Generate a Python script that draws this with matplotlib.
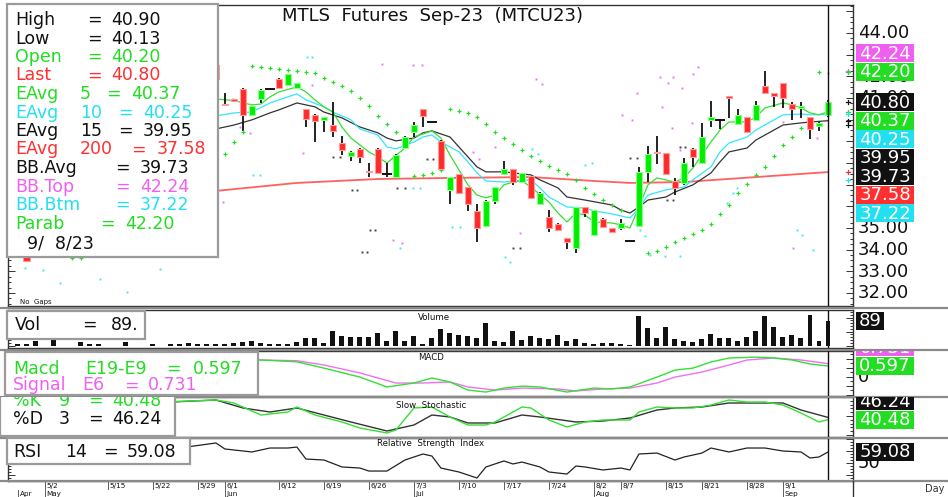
import numpy as np
import matplotlib.pyplot as plt
from matplotlib.patches import Rectangle
from matplotlib.lines import Line2D
from matplotlib.transforms import Affine2D, Bbox
from matplotlib.ticker import MultipleLocator

plt.rcParams['font.family'] = ['DejaVu Sans']

W, H = 948, 497

# ---------------- data ----------------
# every series is keyed by "bars back" from the last session (0 = 9/8/23)
candle_back = [89] + list(range(68, -1, -1))
cdl_open = [34.60,
            42.52, 40.70, 40.95, 41.42, 40.22, 40.95, 41.40, 41.88, 41.60, 41.46,
            40.49, 40.22, 39.98, 39.75, 38.92, 38.32, 38.65, 37.62, 38.65, 37.49,
            37.35, 38.69, 39.43, 40.49, 39.89, 39.02, 36.76, 37.49, 36.89, 35.79,
            35.09, 36.25, 37.49, 37.72, 37.12, 37.40, 36.11, 35.51, 35.19, 34.54,
            34.08, 35.97, 34.68, 35.42, 35.00, 35.00, 34.40, 35.09, 37.59, 38.51,
            38.46, 37.17, 37.08, 38.65, 38.00, 39.98, 39.99, 41.09, 39.80, 40.12,
            39.98, 41.55, 41.23, 41.69, 40.72, 40.55, 40.12, 39.71, 40.20]
cdl_high = [34.70,
            42.60, 41.23, 40.97, 41.45, 40.65, 41.40, 41.42, 41.90, 42.12, 41.71,
            40.50, 40.24, 40.14, 40.80, 39.25, 38.53, 38.69, 38.00, 38.67, 38.00,
            38.40, 39.25, 39.89, 40.51, 39.91, 39.04, 37.37, 37.51, 36.91, 36.11,
            36.27, 36.91, 38.09, 37.74, 37.56, 37.42, 36.64, 35.83, 35.21, 34.56,
            35.99, 35.99, 35.85, 35.44, 35.02, 35.42, 34.42, 37.82, 38.79, 39.25,
            38.48, 37.31, 38.23, 38.67, 39.85, 40.86, 40.01, 41.11, 40.49, 40.14,
            40.86, 42.25, 41.25, 41.71, 40.82, 40.82, 40.14, 39.87, 40.90]
cdl_low = [33.45,
           41.80, 40.63, 40.86, 39.48, 40.15, 40.77, 41.36, 41.44, 41.58, 41.44,
           39.66, 38.97, 39.43, 39.20, 38.37, 38.09, 38.00, 37.35, 37.52, 37.35,
           37.33, 38.65, 39.20, 39.66, 39.87, 37.70, 36.11, 36.60, 35.79, 34.36,
           35.07, 36.11, 37.47, 37.00, 37.10, 36.37, 36.09, 34.82, 34.85, 34.03,
           33.85, 35.51, 34.66, 35.00, 34.80, 34.91, 34.38, 35.07, 37.12, 37.95,
           37.47, 36.52, 36.99, 37.82, 37.98, 39.66, 39.57, 40.08, 39.78, 39.43,
           39.96, 41.21, 40.59, 40.54, 39.98, 40.08, 39.11, 39.48, 40.13]
cdl_close = [33.47,
             41.88, 40.66, 40.88, 40.22, 40.63, 41.37, 41.40, 41.46, 42.10, 41.69,
             40.03, 39.94, 40.12, 39.48, 38.60, 38.51, 38.28, 37.58, 37.54, 37.49,
             38.37, 39.20, 39.75, 40.17, 39.89, 37.72, 37.35, 36.62, 36.11, 35.00,
             36.25, 36.89, 37.72, 37.12, 37.54, 36.39, 36.62, 35.00, 34.91, 34.36,
             35.97, 35.69, 35.83, 35.05, 34.82, 35.23, 34.40, 37.59, 38.42, 38.46,
             37.49, 36.85, 38.00, 38.28, 39.20, 40.12, 39.99, 41.00, 40.22, 39.45,
             40.68, 41.23, 41.09, 41.00, 40.49, 40.62, 39.57, 39.85, 40.80]

ema5_back = [68, 66, 64, 63, 62, 61, 59, 58, 57, 56, 55, 54, 53, 51, 50, 49, 47, 46, 44, 43,
             42, 41, 40, 39, 38, 37, 36, 35, 34, 33, 31, 30, 29, 28, 27, 26, 24, 23, 22, 21,
             20, 19, 17, 16, 15, 14, 13, 12, 11, 9, 8, 7, 5, 4, 3, 2, 1, 0]
ema5 = [40.95, 40.88, 40.68, 40.72, 41.05, 41.28, 41.51, 41.28, 40.91, 40.59, 40.35, 39.66,
        39.15, 38.51, 38.28, 38.00, 38.69, 39.20, 39.48, 39.15, 38.37, 37.68, 36.99, 36.52,
        36.39, 36.52, 36.99, 37.12, 37.17, 36.89, 36.20, 35.69, 35.28, 35.69, 35.60, 35.28,
        35.23, 35.14, 35.00, 35.97, 36.99, 37.31, 37.12, 37.31, 37.77, 38.37, 38.97, 39.52,
        39.89, 39.89, 40.12, 40.54, 40.77, 40.68, 40.54, 40.31, 40.22, 40.37]
ema10_back = [68, 66, 64, 62, 60, 59, 58, 56, 55, 53, 52, 50, 49, 48, 46, 45, 44, 43, 41, 40,
              39, 38, 36, 35, 33, 32, 31, 29, 27, 26, 24, 22, 21, 20, 18, 16, 15, 13, 12, 11,
              9, 8, 6, 5, 3, 2, 0]
ema10 = [40.17, 40.31, 40.35, 40.77, 41.05, 41.19, 40.91, 40.59, 40.35, 39.99, 39.57, 39.29,
         38.74, 38.65, 38.97, 39.20, 39.29, 38.97, 38.51, 38.05, 37.54, 37.17, 37.12, 37.17,
         37.22, 36.85, 36.43, 35.97, 35.92, 35.79, 35.65, 35.46, 35.92, 36.52, 36.76, 36.89,
         37.22, 37.82, 38.51, 38.92, 39.20, 39.52, 39.99, 40.22, 40.26, 40.22, 40.25]
ema15_back = [68, 66, 64, 62, 61, 59, 57, 56, 54, 52, 50, 49, 48, 46, 45, 44, 42, 41, 40, 39,
              38, 36, 35, 33, 32, 30, 29, 27, 24, 23, 22, 21, 20, 18, 17, 15, 13, 12, 11, 9,
              8, 6, 5, 3, 2, 0]
ema15 = [39.57, 39.75, 39.99, 40.31, 40.45, 40.77, 40.59, 40.35, 40.08, 39.66, 39.39, 39.15,
         39.02, 39.15, 39.39, 39.48, 39.20, 38.74, 38.28, 37.82, 37.59, 37.59, 37.54, 37.45,
         37.22, 36.85, 36.43, 36.29, 36.06, 35.83, 35.69, 35.97, 36.29, 36.43, 36.66, 36.99,
         37.54, 38.05, 38.51, 38.69, 39.06, 39.52, 39.75, 39.85, 39.89, 39.95]
ema200_back = [91, 68, 59, 50, 42, 33, 26, 22, 16, 0]
ema200 = [36.40, 36.71, 37.08, 37.26, 37.31, 37.35, 37.17, 37.08, 37.12, 37.58]

sar_back = [84, 83, 67, 66, 65] + list(range(64, 47, -1)) + [46, 45, 44, 43] + \
    list(range(42, 22, -1)) + list(range(20, 0, -1))
sar = [33.62, 33.62, 38.42, 38.97, 39.43,
       42.48, 42.43, 42.38, 42.34, 42.29, 42.25, 42.20, 42.15, 41.92, 41.74, 41.55, 41.32,
       41.00, 40.63, 40.17, 39.80, 39.43,
       37.40, 37.45, 37.54, 37.68,
       40.49, 40.40, 40.31, 40.12, 39.80, 39.43, 39.15, 38.88, 38.60, 38.32, 38.09, 37.86,
       37.68, 37.49, 37.22, 36.85, 36.57, 36.29, 36.06, 35.83,
       33.85, 33.94, 34.12, 34.36, 34.54, 34.72, 34.91, 35.19, 35.65, 36.06, 36.62, 37.03,
       37.45, 37.82, 38.32, 38.83, 39.20, 39.62, 39.99, 42.20]
sar_last = 42.20
bb_avg_last, bb_top_last, bb_btm_last = 39.73, 42.24, 37.22

# dotted Bollinger traces: only scattered dots survive in the picture
bbtop_back = [67.2, 66.1, 65.3, 64.2, 58.3, 57.3, 49.6, 46.1, 45.1, 39.4, 38.8, 37.0, 48.3,
              47.3, 34.2, 32.4, 31.8, 22.9, 21.8, 21.2, 18.7, 17.8, 17.2, 16.2, 15.0, 14.4,
              18.4, 17.3, 16.4, 15.1, 5.0, 1.2, 3.9, 0.0]
bbtop_dots = [36.20, 40.95, 39.66, 39.39, 38.46, 41.60, 42.57, 42.52, 42.52, 38.51, 38.19,
              38.74, 34.45, 34.31, 34.77, 41.88, 41.65, 40.22, 39.99, 41.23, 41.97, 41.69,
              41.97, 41.46, 42.11, 42.43, 40.59, 39.62, 38.60, 39.85, 39.89, 39.15, 34.08,
              42.15]
bbbtm_back = [89.2, 87.2, 85.3, 80.9, 77.9, 74.2, 63.9, 63.1, 57.9, 57.3, 46.1, 45.3, 41.8,
              40.9, 47.6, 35.9, 35.3, 32.9, 32.2, 27.0, 26.2, 20.9, 20.3, 19.8, 18.1, 16.4,
              11.2, 10.6, 10.1, 3.4, 2.9, 1.7]
bbbtm_dots = [33.16, 33.06, 32.46, 32.65, 32.05, 33.11, 37.45, 37.45, 42.89, 42.89, 36.85,
              36.85, 35.05, 35.05, 34.08, 33.66, 33.43, 38.65, 38.42, 37.91, 38.00, 34.91,
              34.63, 33.76, 33.71, 33.71, 36.15, 36.62, 36.85, 34.91, 34.68, 33.99]
bbavg_back = [55.0, 54.2, 52.9, 52.3, 51.8, 51.2, 50.9, 50.3, 47.9, 47.0, 44.6, 43.9, 35.0,
              34.2, 22.0, 21.2, 17.9, 17.2, 16.4, 15.9]
bbavg_dots = [38.28, 38.28, 36.76, 36.76, 33.89, 33.89, 34.91, 34.91, 36.85, 36.85, 38.19,
              38.19, 34.08, 34.08, 38.23, 38.23, 36.29, 36.29, 38.74, 38.74]

vol_back = [90, 89, 88, 86, 83, 82, 81, 78, 75, 73, 72, 71, 70, 69] + list(range(68, -1, -1))
volume = [5, 5, 17, 20, 12, 6, 6, 12, 5, 6, 7, 11, 6, 6,
          7, 7, 8, 12, 18, 11, 5, 5, 7, 12,
          28, 28, 11, 52, 36, 30, 30, 32, 46, 17,
          52, 17, 36, 5, 28, 59, 47, 38, 36, 28,
          80, 17, 12, 53, 20, 36, 26, 24, 38, 17,
          23, 8, 6, 11, 8, 5, 4, 106, 64, 26,
          68, 23, 18, 12, 23, 40, 28, 26, 17, 32,
          52, 106, 68, 30, 38, 28, 109, 17, 89]

macd_back = [68, 63, 59, 56, 52, 49, 46, 44, 42, 40, 38, 36, 34, 32, 29, 26, 24, 22, 19, 17,
             15, 13, 11, 8, 6, 4, 2, 0]
macd = [0.93, 0.93, 0.83, 0.48, -0.02, -0.57, -0.35, -0.07, -0.29, -0.74, -0.85, -0.63, -0.52,
        -0.57, -0.85, -0.63, -0.68, -0.57, -0.02, 0.37, 0.48, 0.82, 1.04, 1.09, 1.04, 0.93,
        0.71, 0.597]
signal_back = [68, 63, 59, 56, 52, 48, 45, 42, 40, 37, 34, 30, 28, 25, 22, 19, 17, 14, 11, 9,
               6, 3, 0]
signal = [0.93, 0.93, 0.89, 0.65, 0.21, -0.35, -0.35, -0.29, -0.57, -0.74, -0.63, -0.68, -0.79,
          -0.68, -0.63, -0.35, -0.02, 0.26, 0.65, 0.93, 1.04, 0.93, 0.731]

stk_back = [76, 73, 68, 66, 63, 60, 59, 57, 54, 52, 49, 48, 46, 44, 42, 40, 38, 37, 34, 33,
            31, 29, 27, 25, 22, 21, 19, 17, 15, 13, 11, 9, 7, 5, 3, 1, 0]
pct_k = [85.0, 87.6, 92.1, 84.2, 52.6, 60.5, 73.7, 52.6, 34.2, 18.4, 5.3, 13.2, 71.1, 73.7,
         47.4, 26.3, 26.3, 34.2, 73.7, 71.1, 39.5, 21.1, 34.2, 39.5, 39.5, 60.5, 73.7, 71.1,
         71.1, 78.9, 92.1, 86.8, 86.8, 78.9, 57.9, 34.2, 40.48]
std_back = [76, 73, 68, 65, 62, 59, 56, 53, 49, 46, 44, 42, 40, 37, 34, 32, 28, 25, 22, 19,
            17, 14, 11, 8, 5, 3, 0]
pct_d = [85.0, 86.8, 92.1, 71.1, 60.5, 71.1, 52.6, 34.2, 10.5, 26.3, 52.6, 47.4, 31.6, 31.6,
         52.6, 47.4, 34.2, 36.8, 44.7, 65.8, 71.1, 73.7, 84.2, 84.2, 84.2, 65.8, 46.24]

rsi_back = [75, 71, 68, 67, 64, 62, 60, 59, 58, 56, 54, 52, 51, 49, 47, 45, 44, 43, 41, 39,
            38, 36, 35, 34, 32, 31, 29, 28, 27, 25, 23, 22, 21, 19, 17, 16, 14, 13, 11, 9,
            7, 5, 3, 2, 1, 0]
rsi = [62.0, 63.5, 66.6, 61.6, 59.1, 62.4, 62.4, 63.2, 53.2, 52.4, 46.6, 45.7, 43.2, 43.2,
       52.4, 57.4, 55.7, 45.7, 42.4, 37.4, 46.6, 51.6, 49.1, 50.7, 46.6, 42.4, 40.7, 47.4,
       46.6, 44.1, 45.7, 44.1, 57.4, 58.2, 52.4, 54.9, 58.2, 62.4, 59.1, 62.4, 62.4, 59.9,
       59.1, 54.1, 54.9, 59.08]

tick_back = [87, 80, 75, 70, 67, 61, 56, 51, 46, 41, 36, 31, 26, 23, 18, 14, 9, 5]
tick_text = ['5/2', '5/15', '5/22', '5/29', '6/1', '6/12', '6/19', '6/26', '7/3', '7/10',
             '7/17', '7/24', '8/2', '8/7', '8/15', '8/21', '8/28', '9/1']
month_back = [90, 87, 67, 46, 26, 5]
month_text = ['Apr', 'May', 'Jun', 'Jul', 'Aug', 'Sep']
price_ticks = [32, 33, 34, 35, 41, 42, 44]   # the other labels sit under the value tags

# ---------------- colours ----------------
GREEN = '#22dd22'
RED = '#ff3030'
CYAN = '#22e0f0'
PINK = '#f060f0'
BLACK = '#111111'

fig = plt.figure(figsize=(W / 100, H / 100), dpi=100)
fig.patch.set_facecolor('white')
# pixel coordinates, origin top-left
PX = Affine2D().scale(1.0 / W, -1.0 / H).translate(0, 1) + fig.transFigure


def neg(b):
    return [-v for v in b]


def clip_px(x0, y0, x1, y1):
    return Bbox.from_extents(x0, H - y1, x1, H - y0)


def panel(top, bottom, left=8, right=853):
    a = fig.add_axes([left / W, 1 - bottom / H, (right - left) / W, (bottom - top) / H])
    a.set_xlim(-91.1, 2.78)
    a.set_xticks([])
    a.tick_params(axis='y', which='both', direction='in', left=True, right=True,
                  labelleft=False, labelright=False, width=0.7, colors='#333333')
    a.tick_params(axis='y', which='major', length=5)
    a.tick_params(axis='y', which='minor', length=2.5)
    for s in a.spines.values():
        s.set_linewidth(1.0)
        s.set_color('#333333')
    return a


def ypx(a, v):
    return H - a.transData.transform((0, v))[1]


def ftext(x, y, s, **kw):
    kw.setdefault('fontsize', 12.5)
    kw.setdefault('va', 'center')
    return fig.text(x, y, s, transform=PX, **kw)


def tag(y, s, bg, clip, fg='white'):
    w = 12.3 * sum(ch.isdigit() for ch in s) + 6 * s.count('.') + 3
    r = Rectangle((856, y - 9), w, 18, transform=PX, facecolor=bg, edgecolor='none', zorder=5)
    fig.add_artist(r)
    r.set_clip_box(clip)
    t = ftext(856 + w / 2, y + 0.5, s, ha='center', color=fg, fontsize=13, zorder=6)
    t.set_clip_box(clip)


def stack(ys, anchor, h=18.5):
    out = list(ys)
    for i in range(anchor + 1, len(ys)):
        out[i] = max(ys[i], out[i - 1] + h)
    for i in range(anchor - 1, -1, -1):
        out[i] = min(ys[i], out[i + 1] - h)
    return out


def legend_box(x0, y0, x1, y1, rows, clip=None):
    r = Rectangle((x0, y0), x1 - x0, y1 - y0, transform=PX, facecolor='white',
                  edgecolor='#9a9a9a', lw=1.6, zorder=8)
    fig.add_artist(r)
    if clip is not None:
        r.set_clip_box(clip)
    for y, parts, col in rows:
        for x, s in parts:
            t = ftext(x, y, s, color=col, zorder=9)
            if clip is not None:
                t.set_clip_box(clip)


# ---------------- price panel ----------------
ax = panel(5, 306)
ax.set_ylim(31.40, 45.29)
ax.yaxis.set_major_locator(MultipleLocator(1))
ax.yaxis.set_minor_locator(MultipleLocator(0.25))

for b, v, col in ((bbtop_back, bbtop_dots, '#f070f0'), (bbbtm_back, bbbtm_dots, '#40e8f8'),
                  (bbavg_back, bbavg_dots, '#444444')):
    ax.plot(neg(b), v, ls='none', marker='s', ms=1.4, mew=0, color=col, zorder=2)

ax.plot(neg(ema200_back), ema200, color='#ff6060', lw=1.3, zorder=2)
ax.plot(neg(ema15_back), ema15, color='#333333', lw=0.9, zorder=2)
ax.plot(neg(ema10_back), ema10, color='#33e5ff', lw=0.9, zorder=2)
ax.plot(neg(ema5_back), ema5, color='#33e033', lw=0.9, zorder=2)

for b, o, hi, lo, c in zip(candle_back, cdl_open, cdl_high, cdl_low, cdl_close):
    x = -b
    ax.plot([x, x], [lo, hi], color=BLACK, lw=1.3, zorder=3, solid_capstyle='butt')
    if o == c:
        ax.plot([x - 0.42, x + 0.42], [o, o], color=BLACK, lw=1.4, zorder=4)
        continue
    fc, ec = ('#00ee00', '#8cff8c') if c > o else ('#ff2a2a', '#ff9c9c')
    bot, top = min(o, c), max(o, c)
    ax.add_patch(Rectangle((x - 0.38, bot), 0.76, max(top - bot, 0.05), facecolor=fc,
                           edgecolor=ec, lw=0.8, zorder=4))

ax.plot(neg(sar_back), sar, ls='none', marker='+', ms=3.2, mew=0.9, color=GREEN, zorder=3)
ax.axvline(0, color=BLACK, lw=1.0, zorder=5)

clip_price = clip_px(853, 5, 948, 306)
for v in price_ticks:
    t = ftext(858, ypx(ax, v) + 0.5, f'{v:.2f}', fontsize=13, color=BLACK)
    t.set_clip_box(clip_price)

last_close = cdl_close[-1]
price_tags = [(bb_top_last, PINK), (sar_last, GREEN), (last_close, BLACK), (ema5[-1], GREEN),
              (ema10[-1], CYAN), (ema15[-1], BLACK), (bb_avg_last, BLACK), (ema200[-1], RED),
              (bb_btm_last, CYAN)]
true_y = [ypx(ax, v) for v, _ in price_tags]
for (v, col), y0, y in zip(price_tags, true_y, stack(true_y, 2)):
    tag(y, f'{v:.2f}', col, clip_price)
    fig.add_artist(Line2D([846, 850], [y0, y0], transform=PX, color=col, lw=0.9))
    fig.add_artist(Line2D([848, 848], [y0 - 2, y0 + 2], transform=PX, color=col, lw=0.9))

ftext(433, 16, 'MTLS  Futures  Sep-23  (MTCU23)', ha='center', fontsize=13, color=BLACK)
ftext(20, 302, 'No  Gaps', fontsize=5, color=BLACK)

rows = [
    (20, [(15, 'High'), (87, '='), (111, f'{cdl_high[-1]:.2f}')], BLACK),
    (38.5, [(15, 'Low'), (87, '='), (111, f'{cdl_low[-1]:.2f}')], BLACK),
    (57, [(15, 'Open'), (87, '='), (111, f'{cdl_open[-1]:.2f}')], GREEN),
    (75.5, [(15, 'Last'), (87, '='), (111, f'{cdl_close[-1]:.2f}')], RED),
    (94, [(15, 'EAvg'), (80, '5'), (106, '='), (131, f'{ema5[-1]:.2f}')], GREEN),
    (112.5, [(15, 'EAvg'), (80, '10'), (118, '='), (143, f'{ema10[-1]:.2f}')], CYAN),
    (131, [(15, 'EAvg'), (80, '15'), (118, '='), (143, f'{ema15[-1]:.2f}')], BLACK),
    (149.5, [(15, 'EAvg'), (80, '200'), (131, '='), (157, f'{ema200[-1]:.2f}')], RED),
    (168, [(15, 'BB.Avg'), (115, '='), (140, f'{bb_avg_last:.2f}')], BLACK),
    (186.5, [(15, 'BB.Top'), (115, '='), (140, f'{bb_top_last:.2f}')], PINK),
    (205, [(15, 'BB.Btm'), (115, '='), (140, f'{bb_btm_last:.2f}')], CYAN),
    (224, [(15, 'Parab'), (100, '='), (125, f'{sar_last:.2f}')], GREEN),
    (243.5, [(27, '9/  8/23')], BLACK),
]
legend_box(7, 4, 218, 257, rows)

# ---------------- volume ----------------
av = panel(310, 348)
av.set_ylim(-8, 127)
av.yaxis.set_major_locator(MultipleLocator(50))
av.yaxis.set_minor_locator(MultipleLocator(10))
av.bar(neg(vol_back), volume, width=0.55, color=BLACK, zorder=3)
av.axvline(0, color=BLACK, lw=1.0, zorder=5)
ftext(434, 317, 'Volume', ha='center', fontsize=6.2, color=BLACK)
clip_vol = clip_px(853, 310, 948, 348)
tag(ypx(av, volume[-1]), f'{volume[-1]}', BLACK, clip_vol)
legend_box(7, 311, 145, 339, [(325, [(15, 'Vol'), (82, '='), (111, f'{volume[-1]}.')], BLACK)])

# ---------------- MACD ----------------
am = panel(351, 396)
am.set_ylim(-1.07, 1.43)
am.yaxis.set_major_locator(MultipleLocator(0.5))
am.yaxis.set_minor_locator(MultipleLocator(0.25))
am.plot(neg(signal_back), signal, color='#f070f0', lw=1.0, zorder=3)
am.plot(neg(macd_back), macd, color='#33e033', lw=1.0, zorder=3)
am.axvline(0, color=BLACK, lw=1.0, zorder=5)
ftext(431, 358, 'MACD', ha='center', fontsize=6.2, color=BLACK)
clip_macd = clip_px(853, 351, 948, 396)
t = ftext(858, ypx(am, 0) + 0.5, '0', fontsize=13, color=BLACK)
t.set_clip_box(clip_macd)
my = [ypx(am, signal[-1]), ypx(am, macd[-1])]
for (v, col), y in zip([(signal[-1], PINK), (macd[-1], GREEN)], stack(my, 1)):
    tag(y, f'{v:.3f}', col, clip_macd)
legend_box(5, 352, 258, 395, [
    (368.5, [(13, 'Macd'), (85, 'E19-E9'), (166, '='), (193, f'{macd[-1]:.3f}')], GREEN),
    (385.5, [(13, 'Signal'), (82, 'E6'), (124, '='), (148, f'{signal[-1]:.3f}')], PINK)])

# ---------------- slow stochastic ----------------
ak = panel(397, 437)
ak.set_ylim(-5.3, 100)
ak.yaxis.set_major_locator(MultipleLocator(50))
ak.yaxis.set_minor_locator(MultipleLocator(10))
ak.plot(neg(std_back), pct_d, color='#333333', lw=1.0, zorder=3)
ak.plot(neg(stk_back), pct_k, color='#33e033', lw=1.0, zorder=3)
ak.axvline(0, color=BLACK, lw=1.0, zorder=5)
ftext(431, 405, 'Slow  Stochastic', ha='center', fontsize=6.2, color=BLACK)
clip_stk = clip_px(853, 397, 948, 437)
ky = [ypx(ak, pct_d[-1]), ypx(ak, pct_k[-1])]
for (v, col), y in zip([(pct_d[-1], BLACK), (pct_k[-1], GREEN)], stack(ky, 1)):
    tag(y, f'{v:.2f}', col, clip_stk)
legend_box(0, 392, 175, 436, [
    (401, [(13, '%K'), (59, '9'), (88, '='), (112, f'{pct_k[-1]:.2f}')], GREEN),
    (418.5, [(13, '%D'), (59, '3'), (88, '='), (112, f'{pct_d[-1]:.2f}')], BLACK)],
    clip=clip_px(0, 397, 200, 437))

# ---------------- RSI ----------------
ar = panel(438, 481)
ar.set_ylim(34.9, 70.75)
ar.yaxis.set_major_locator(MultipleLocator(10))
ar.yaxis.set_minor_locator(MultipleLocator(2.5))
ar.plot(neg(rsi_back), rsi, color='#222222', lw=0.9, zorder=3)
ar.axvline(0, color=BLACK, lw=1.0, zorder=5)
ftext(431, 444, 'Relative  Strength  Index', ha='center', fontsize=6.2, color=BLACK)
clip_rsi = clip_px(853, 438, 948, 481)
t = ftext(858, ypx(ar, 50) + 0.5, '50', fontsize=13, color=BLACK)
t.set_clip_box(clip_rsi)
tag(ypx(ar, rsi[-1]), f'{rsi[-1]:.2f}', BLACK, clip_rsi)
legend_box(7, 438, 190, 464, [(452, [(13, 'RSI'), (65, '14'), (103, '='), (127, f'{rsi[-1]:.2f}')], BLACK)])

# ---------------- date axis ----------------
dax = fig.add_axes([8 / W, 0, (853 - 8) / W, 16 / H])
dax.set_xlim(-91.1, 2.78)
dax.set_ylim(16, 0)
dax.axis('off')
for b, s in zip(tick_back, tick_text):
    dax.plot([-b, -b], [1, 8], color='#444444', lw=0.6, clip_on=False)
    dax.text(-b + 0.2, 4.6, s, fontsize=5.2, va='center', ha='left', color=BLACK)
for b, s in zip(month_back, month_text):
    dax.plot([-b, -b], [9, 16], color='#444444', lw=0.6, clip_on=False)
    dax.text(-b + 0.2, 13.2, s, fontsize=5.2, va='center', ha='left', color=BLACK)
ftext(925, 489, 'Day', fontsize=7, color='#333333')

# separators across the full width and the right axis line down to the bottom
for y in (308, 349.5, 396.5, 437.5, 481):
    fig.add_artist(Line2D([0, W], [y, y], transform=PX, color='#8a8a8a', lw=1.6, zorder=1))
fig.add_artist(Line2D([853, 853], [481, H], transform=PX, color='#333333', lw=1.0))

fig.savefig('out.png', dpi=100, facecolor='white')
